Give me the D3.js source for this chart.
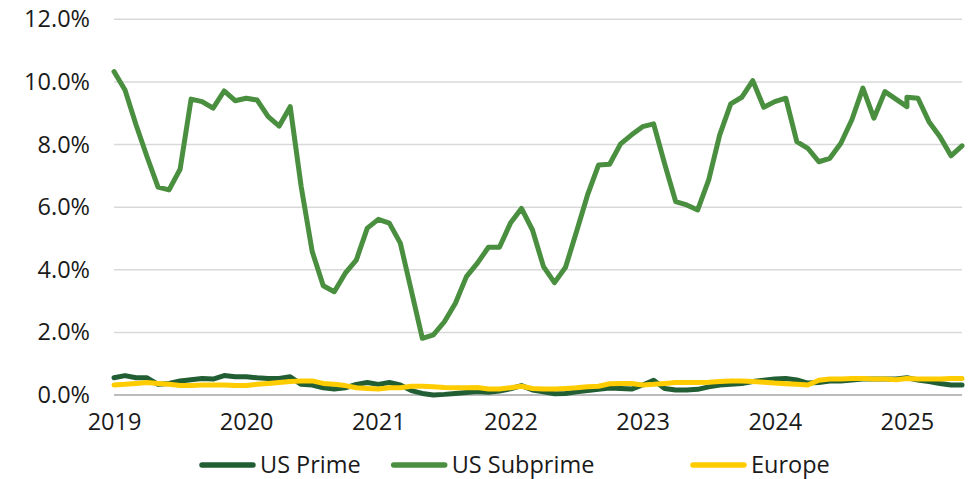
<!DOCTYPE html>
<html>
<head>
<meta charset="utf-8">
<script src="https://cdn.jsdelivr.net/npm/d3@7"></script>
<style>
  html, body { margin: 0; padding: 0; background: #ffffff; }
  svg { display: block; }
  text { font-family: "Open Sans", "Noto Sans", sans-serif; fill: #1a1a1a; }
</style>
</head>
<body>
<svg id="chart" width="977" height="479"></svg>
<script>
// Monthly observation dates (Jan 2025 appears twice in the source series)
const dates = [
  "2019-01","2019-02","2019-03","2019-04","2019-05","2019-06","2019-07","2019-08","2019-09","2019-10","2019-11","2019-12",
  "2020-01","2020-02","2020-03","2020-04","2020-05","2020-06","2020-07","2020-08","2020-09","2020-10","2020-11","2020-12",
  "2021-01","2021-02","2021-03","2021-04","2021-05","2021-06","2021-07","2021-08","2021-09","2021-10","2021-11","2021-12",
  "2022-01","2022-02","2022-03","2022-04","2022-05","2022-06","2022-07","2022-08","2022-09","2022-10","2022-11","2022-12",
  "2023-01","2023-02","2023-03","2023-04","2023-05","2023-06","2023-07","2023-08","2023-09","2023-10","2023-11","2023-12",
  "2024-01","2024-02","2024-03","2024-04","2024-05","2024-06","2024-07","2024-08","2024-09","2024-10","2024-11","2024-12",
  "2025-01","2025-01","2025-02","2025-03","2025-04","2025-05","2025-06"
];

// Values in percent
const usPrime = [
  0.55,0.62,0.55,0.55,0.34,0.37,0.45,0.49,0.53,0.51,0.62,0.58,
  0.58,0.55,0.53,0.53,0.58,0.34,0.32,0.23,0.19,0.23,0.34,0.40,
  0.34,0.40,0.32,0.14,0.05,0.00,0.02,0.05,0.08,0.11,0.09,0.13,
  0.20,0.30,0.16,0.10,0.04,0.05,0.10,0.14,0.18,0.22,0.21,0.19,
  0.32,0.47,0.21,0.16,0.16,0.18,0.26,0.32,0.34,0.37,0.43,0.47,
  0.51,0.53,0.48,0.38,0.40,0.45,0.45,0.48,0.51,0.51,0.51,0.51,
  0.55,0.55,0.48,0.43,0.37,0.32,0.32
];

const usSubprime = [
  10.33,9.74,8.63,7.61,6.64,6.55,7.21,9.45,9.37,9.16,9.71,9.40,
  9.48,9.42,8.89,8.59,9.21,6.65,4.58,3.49,3.30,3.89,4.31,5.33,
  5.61,5.49,4.85,3.33,1.81,1.92,2.34,2.93,3.78,4.21,4.72,4.72,
  5.49,5.96,5.27,4.10,3.59,4.08,5.22,6.39,7.35,7.37,8.02,8.31,
  8.57,8.66,7.38,6.18,6.07,5.91,6.87,8.31,9.30,9.51,10.04,9.19,
  9.37,9.48,8.09,7.88,7.45,7.56,8.04,8.79,9.80,8.84,9.69,9.45,
  9.21,9.51,9.48,8.73,8.25,7.64,7.96
];

const europe = [
  0.32,0.34,0.37,0.40,0.37,0.34,0.30,0.30,0.32,0.32,0.32,0.30,
  0.30,0.34,0.37,0.40,0.43,0.45,0.45,0.37,0.34,0.30,0.23,0.21,
  0.19,0.23,0.23,0.28,0.28,0.26,0.24,0.23,0.23,0.24,0.19,0.19,
  0.23,0.28,0.21,0.19,0.19,0.21,0.23,0.26,0.28,0.36,0.37,0.37,
  0.32,0.34,0.37,0.40,0.40,0.40,0.41,0.43,0.45,0.45,0.43,0.41,
  0.38,0.36,0.34,0.32,0.47,0.51,0.51,0.53,0.53,0.51,0.51,0.49,
  0.53,0.53,0.51,0.51,0.51,0.53,0.53
];

const yTicks = [0, 2, 4, 6, 8, 10, 12];
const xTickLabels = ["2019","2020","2021","2022","2023","2024","2025"];
const seriesNames = ["US Prime", "US Subprime", "Europe"];
const seriesColors = ["#215e34", "#4a8f3f", "#ffcc00"];

// ---- drawing ----
const svg = d3.select("#chart");
const mLeft = 114, mRight = 962, mTop = 19.3, mBottom = 395;

const monthIndex = s => {
  const [yy, mm] = s.split("-").map(Number);
  return (yy - 2019) * 12 + (mm - 1);
};
const idx = dates.map(monthIndex);

const x = d3.scaleLinear().domain([0, d3.max(idx)]).range([mLeft, mRight]);
const y = d3.scaleLinear().domain([0, 12]).range([mBottom, mTop]);

// gridlines
svg.append("g")
  .selectAll("line")
  .data(yTicks.filter(t => t > 0))
  .join("line")
  .attr("x1", mLeft).attr("x2", mRight)
  .attr("y1", d => y(d)).attr("y2", d => y(d))
  .attr("stroke", "#d9d9d9").attr("stroke-width", 1.5);

// y axis labels
const yAxis = d3.axisLeft(y).tickValues(yTicks)
  .tickFormat(d => d.toFixed(1) + "%").tickSize(0).tickPadding(24);
const gy = svg.append("g").attr("transform", `translate(${mLeft},0)`).call(yAxis);
gy.select(".domain").remove();
gy.selectAll("text").attr("font-size", 23.5)
  .style("font-family", '"Open Sans", sans-serif').attr("fill", "#1a1a1a");

// x axis
const xAxis = d3.axisBottom(x)
  .tickValues(xTickLabels.map((_, i) => i * 12))
  .tickFormat((d, i) => xTickLabels[i]).tickSize(0).tickPadding(18);
const gx = svg.append("g").attr("transform", `translate(0,${mBottom})`).call(xAxis);
gx.select(".domain").remove();
gx.selectAll("text").attr("font-size", 23.5)
  .style("font-family", '"Open Sans", sans-serif').attr("fill", "#1a1a1a");

// baseline
svg.append("line")
  .attr("x1", mLeft).attr("x2", mRight)
  .attr("y1", y(0)).attr("y2", y(0))
  .attr("stroke", "#a6a6a6").attr("stroke-width", 1.5);

// lines
const allSeries = [usPrime, usSubprime, europe];
const line = d3.line().x((d, i) => x(idx[i])).y(d => y(d));
allSeries.forEach((s, k) => {
  svg.append("path")
    .datum(s)
    .attr("d", line)
    .attr("fill", "none")
    .attr("stroke", seriesColors[k])
    .attr("stroke-width", 5)
    .attr("stroke-linejoin", "round")
    .attr("stroke-linecap", "round");
});

// legend
const legendX = [200, 391.7, 691];
const legendY = 465;
const lg = svg.append("g");
seriesNames.forEach((name, k) => {
  lg.append("line")
    .attr("x1", legendX[k] + 2).attr("x2", legendX[k] + 53)
    .attr("y1", legendY).attr("y2", legendY)
    .attr("stroke", seriesColors[k]).attr("stroke-width", 5.5)
    .attr("stroke-linecap", "round");
  lg.append("text")
    .attr("x", legendX[k] + 60).attr("y", legendY)
    .attr("dy", "0.35em")
    .attr("font-size", 23.5)
    .text(name);
});
</script>
</body>
</html>
